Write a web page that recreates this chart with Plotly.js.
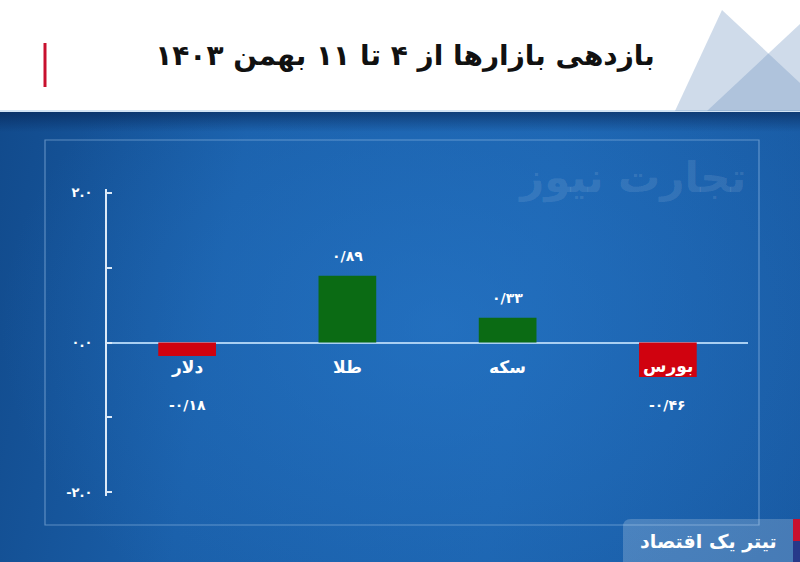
<!DOCTYPE html>
<html>
<head>
<meta charset="utf-8">
<script src="https://cdn.plot.ly/plotly-3.0.1.min.js"></script>
<style>
html,body{margin:0;padding:0;}
#wrap{width:800px;height:562px;position:relative;overflow:hidden;
background:
 linear-gradient(to bottom, #ffffff 0px, #ffffff 110px, #d3e4f4 110px, #d3e4f4 112px, rgba(0,0,0,0) 112px),
 linear-gradient(to bottom, rgba(0,0,0,0) 112px, rgba(4,30,75,0.55) 112px, rgba(4,30,75,0) 132px),
 radial-gradient(ellipse 55% 60% at 55% 58%, rgba(40,122,205,0.55), rgba(40,122,205,0) 100%),
 linear-gradient(100deg, #11498a 0%, #1a5fa9 30%, #1c63ae 65%, #195ba4 100%);
}
#chart{width:800px;height:562px;position:absolute;left:0;top:0;}
</style>
</head>
<body>
<div id="wrap"><div id="chart"></div></div>
<script>
const categories = ['دلار', 'طلا', 'سکه', 'بورس'];
const values = [-0.18, 0.89, 0.33, -0.46];
const valueLabels = ['-۰/۱۸', '۰/۸۹', '۰/۳۳', '-۰/۴۶'];
const tickVals = [-2, -1, 0, 1, 2];
const tickText = ['-۲.۰', '', '۰.۰', '', '۲.۰'];
const titleText = 'بازدهی بازارها از ۴ تا ۱۱ بهمن ۱۴۰۳';
const watermarkText = 'تجارت نیوز';
const logoText = 'تیتر یک اقتصاد';

const FONT = 'DejaVu Sans, Noto Sans, sans-serif';
const L = 107, T = 189, W = 641, H = 307;
const px = x => (x - L) / W;
const py = y => (T + H - y) / H;

const barColors = values.map(v => v >= 0 ? '#0b6b14' : '#d0020f');

const trace = {
  type: 'bar',
  x: categories,
  y: values,
  marker: {color: barColors, line: {width: 0}},
  hoverinfo: 'skip'
};

const annotations = [];
categories.forEach((c, i) => {
  annotations.push({
    x: c, y: 0, xref: 'x', yref: 'y', yshift: -24,
    text: c, showarrow: false, xanchor: 'center', yanchor: 'middle',
    font: {family: FONT, size: 17, color: '#ffffff', weight: 'bold'}
  });
  const v = values[i];
  annotations.push({
    x: c, y: v >= 0 ? v : 0, xref: 'x', yref: 'y', yshift: v >= 0 ? 20 : -62,
    text: valueLabels[i], showarrow: false, xanchor: 'center', yanchor: 'middle',
    font: {family: FONT, size: 14, color: '#ffffff', weight: 'bold'}
  });
});
annotations.push({
  xref: 'paper', yref: 'paper', x: px(632), y: py(178),
  text: watermarkText, showarrow: false, xanchor: 'center', yanchor: 'middle',
  font: {family: FONT, size: 42, color: 'rgba(255,255,255,0.11)', weight: 'bold'}
});
annotations.push({
  xref: 'paper', yref: 'paper', x: px(708), y: py(541),
  text: logoText, showarrow: false, xanchor: 'center', yanchor: 'middle',
  font: {family: FONT, size: 19, color: '#ffffff', weight: 'bold'}
});

const shapes = [
  {type: 'path', xref: 'paper', yref: 'paper', layer: 'below',
   path: `M ${px(675)} ${py(111)} L ${px(722)} ${py(10)} L ${px(800)} ${py(83)} L ${px(800)} ${py(111)} Z`,
   fillcolor: 'rgba(110,145,190,0.33)', line: {width: 0}},
  {type: 'path', xref: 'paper', yref: 'paper', layer: 'below',
   path: `M ${px(707)} ${py(111)} L ${px(800)} ${py(24)} L ${px(800)} ${py(111)} Z`,
   fillcolor: 'rgba(110,145,190,0.33)', line: {width: 0}},
  {type: 'line', xref: 'paper', yref: 'paper', x0: px(45), x1: px(45), y0: py(43), y1: py(87),
   line: {color: '#c8102e', width: 3}},
  {type: 'rect', xref: 'paper', yref: 'paper', layer: 'below',
   x0: px(45), x1: px(759), y0: py(525), y1: py(140),
   line: {color: 'rgba(165,200,238,0.5)', width: 1.2}, fillcolor: 'rgba(0,0,0,0)'},
  {type: 'path', xref: 'paper', yref: 'paper',
   path: `M ${px(631)} ${py(519)} L ${px(793)} ${py(519)} L ${px(793)} ${py(566)} L ${px(623)} ${py(566)} L ${px(623)} ${py(527)} Q ${px(623)} ${py(519)} ${px(631)} ${py(519)} Z`,
   line: {width: 0}, fillcolor: 'rgba(255,255,255,0.2)'},
  {type: 'rect', xref: 'paper', yref: 'paper',
   x0: px(793), x1: px(800), y0: py(541), y1: py(519),
   line: {width: 0}, fillcolor: '#c8102e'},
  {type: 'rect', xref: 'paper', yref: 'paper',
   x0: px(793), x1: px(800), y0: py(566), y1: py(541),
   line: {width: 0}, fillcolor: '#27398a'}
];

const layout = {
  width: 800, height: 562,
  margin: {l: L, r: 800 - L - W, t: T, b: 562 - T - H, pad: 0},
  paper_bgcolor: 'rgba(0,0,0,0)',
  plot_bgcolor: 'rgba(0,0,0,0)',
  showlegend: false,
  bargap: 0.64,
  title: {
    text: titleText, xref: 'container', yref: 'container',
    x: 405 / 800, y: 1 - 55 / 562, xanchor: 'center', yanchor: 'middle',
    font: {family: FONT, size: 28, color: '#111111', weight: 'bold'}
  },
  xaxis: {
    type: 'category', range: [-0.5, 3.5], showticklabels: false,
    showline: false, showgrid: false, zeroline: false, ticks: '', fixedrange: true
  },
  yaxis: {
    range: [-2.05, 2.05], tickmode: 'array', tickvals: tickVals, ticktext: tickText,
    ticks: 'inside', ticklen: 5, tickwidth: 2, tickcolor: '#dce9f7',
    showline: true, linecolor: '#dce9f7', linewidth: 2,
    showgrid: false, zeroline: true, zerolinecolor: '#a9cff2', zerolinewidth: 2,
    tickfont: {family: FONT, size: 13, color: '#ffffff', weight: 'bold'},
    ticklabelstandoff: 10, fixedrange: true
  },
  annotations: annotations,
  shapes: shapes
};

Plotly.newPlot('chart', [trace], layout, {displayModeBar: false, staticPlot: true});
</script>
</body>
</html>
